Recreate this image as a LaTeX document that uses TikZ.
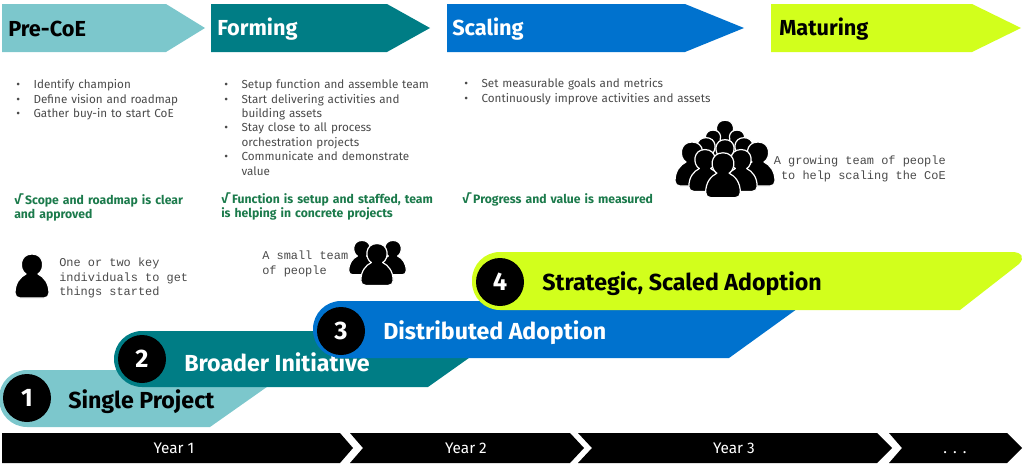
\documentclass[tikz,border=0pt]{standalone}
\usepackage{fontspec}
\setmainfont{Fira Sans}
\setmonofont{Liberation Mono}
\definecolor{paleteal}{HTML}{7CC7CC}
\definecolor{deepteal}{HTML}{007D85}
\definecolor{midblue}{HTML}{0072CE}
\definecolor{lime}{HTML}{D2FF1C}
\definecolor{tickgreen}{HTML}{1B7A4B}
\definecolor{bodygrey}{HTML}{4A4A4A}
\newcommand{\itm}{\par\noindent\hyphenpenalty=10000\hangindent=13pt\hangafter=1\hbox to 13pt{\textbullet\hfil}}
\tikzset{
 person/.pic={\path[pic actions] (-12,33) .. controls (-15,33) and (-17,31) .. (-17,28) .. controls (-17,18) and (-12,12) .. (-6,9) .. controls (-13,5) and (-13,-11) .. (0,-11) .. controls (13,-11) and (13,5) .. (6,9) .. controls (12,12) and (17,18) .. (17,28) .. controls (17,31) and (15,33) .. (12,33) -- cycle;}}
\begin{document}
\begin{tikzpicture}[x=.75pt,y=-.75pt,
 every node/.style={inner sep=0pt},
 head/.style={font=\fontsize{16.3}{18}\selectfont\bfseries,anchor=west},
 list/.style={font=\fontsize{8.75}{10.8}\selectfont,text=bodygrey,anchor=north west,align=left},
 tick/.style={font=\fontsize{9.15}{10.8}\selectfont\bfseries,text=tickgreen,anchor=north west,align=left},
 note/.style={font=\fontsize{8.95}{10.8}\ttfamily,text=bodygrey,align=left},
 band/.style={rounded corners=21pt},
 stage/.style={font=\fontsize{17.4}{20}\selectfont\bfseries,anchor=west},
 num/.style={circle,fill=black,text=white,minimum size=36pt,font=\fontsize{19}{20}\selectfont\bfseries},
 year/.style={text=white,font=\fontsize{11.5}{13}\selectfont},
 crowd/.style={fill=black,draw=white,line width=.9pt,line join=round}]
\useasboundingbox (0,0) rectangle (1024,468);
% phase arrows
\foreach \name/\lft/\bodyend/\tip/\col/\txt/\tcol/\tx in {
  precoe/2/166/205/paleteal/Pre-CoE/black/8,
  forming/211/387/430/deepteal/Forming/white/217,
  scaling/447/685/744/midblue/Scaling/white/452,
  maturing/771/972/1021/lime/Maturing/black/779}{
 \fill[\col] (\lft,4) -- (\bodyend,4) -- (\tip,28) -- (\bodyend,52) -- (\lft,52) -- cycle;
 \node[head,text=\tcol] (\name) at (\tx,29) {\txt};
}
% what happens in each phase
\node[list,text width=157pt] (listone) at (16,74) {\itm Identify champion\itm Define vision and roadmap\itm Gather buy-in to start CoE\par};
\node[list,text width=157pt] (listtwo) at (224,74) {\itm Setup function and assemble team\itm Start delivering activities and building assets\itm Stay close to all process orchestration projects\itm Communicate and demonstrate value\par};
\node[list,text width=230pt] (listthree) at (464,73) {\itm Set measurable goals and metrics\itm Continuously improve activities and assets\par};
\node[tick,text width=140pt] (tickone) at (14,193) {√ Scope and roadmap is clear\\and approved};
\node[tick,text width=170pt] (ticktwo) at (221,192) {√ Function is setup and staffed, team\\is helping in concrete projects};
\node[tick,text width=170pt] (tickthree) at (462,192) {√ Progress and value is measured};
% team sizes
\pic[crowd] at (32,265) {person};
\node[note,anchor=north west] (noteone) at (59,258) {One or two key\\individuals to get\\things started};
\foreach \px/\py/\ps in {362/249/.78,393/249/.78,377/254/.95}
 \pic[crowd,scale=\ps] at (\px,\py) {person};
\node[note,anchor=north west] (notetwo) at (262,251) {A small team\\of people};
\foreach \px/\py/\ps in {725/129/.8,713/138/.72,737/138/.72,706/147/.85,744/147/.85,725/149/.85,692/153/1,758/153/1,705/160/.95,741/160/.95,723/164/1.02}
 \pic[crowd,scale=\ps] at (\px,\py) {person};
\node[note,anchor=north east,align=right] (notethree) at (946,156) {A growing team of people\\to help scaling the CoE};
% adoption bands
\fill[paleteal,band] (100,427) -- (-1,427) -- (-1,370) [sharp corners] -- (291,370) -- (210,427) -- cycle;
\node[stage,text=black] (single) at (68,402) {Single Project};
\fill[deepteal,band] (200,387) -- (114,387) -- (114,331) [sharp corners] -- (507,331) -- (428,387) -- cycle;
\node[stage,text=white] (broader) at (184,362) {Broader Initiative};
\fill[midblue,band] (400,358) -- (313,358) -- (313,301) [sharp corners] -- (808,301) -- (729,358) -- cycle;
\node[stage,text=white] (distributed) at (383,333) {Distributed Adoption};
\fill[lime,band] (560,310) -- (472,310) -- (472,252) [sharp corners] -- (1012,252) .. controls (1022,252) and (1025,258) .. (1019,264) -- (960,310) -- cycle;
\node[stage,text=black] (strategic) at (542,284) {Strategic, Scaled Adoption};
\node[num] (one) at (27,398) {1};
\node[num] (two) at (142,359) {2};
\node[num] (three) at (341,331) {3};
\node[num] (four) at (500,282) {4};
% time line
\foreach \name/\lft/\notch/\bodyend/\tip/\txt/\tx in {
  yearone/2/2/340/353/Year 1/174,
  yeartwo/350/363/570/584/Year 2/466,
  yearthree/578/592/877/892/Year 3/734}{
 \fill[black] (\lft,433) -- (\bodyend,433) -- (\tip,448) -- (\bodyend,463) -- (\lft,463) -- (\notch,448) -- cycle;
 \node[year] (\name) at (\tx,448) {\txt};
}
\fill[black] (889,433) -- (1007,433) -- (1022,448) -- (1007,463) -- (889,463) -- (902,448) -- cycle;
\node[year] (yearmore) at (955,453) {\addfontfeature{LetterSpace=40}...};
\end{tikzpicture}
\end{document}
